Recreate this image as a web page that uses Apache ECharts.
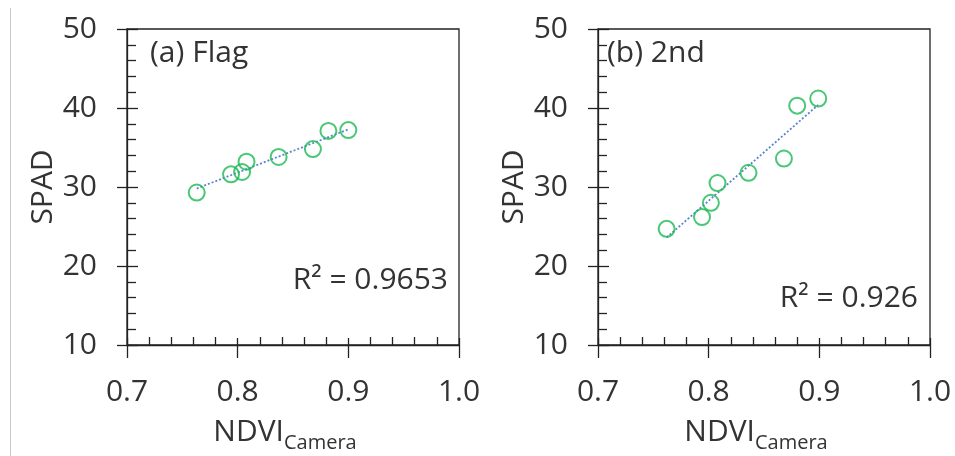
<!DOCTYPE html>
<html>
<head>
<meta charset="utf-8">
<title>SPAD vs NDVI camera</title>
<script src="https://cdn.jsdelivr.net/npm/echarts@6/dist/echarts.min.js"></script>
<style>
  html, body { margin: 0; padding: 0; background: #fff; }
  #chart { width: 955px; height: 456px; }
</style>
</head>
<body>
<div id="chart"></div>
<script>
// flag leaf
const ndviFlag = [0.763, 0.794, 0.804, 0.808, 0.837, 0.868, 0.882, 0.900];
const spadFlag = [29.3, 31.6, 31.9, 33.2, 33.8, 34.8, 37.1, 37.2];
// 2nd leaf
const ndvi2nd = [0.762, 0.794, 0.802, 0.808, 0.836, 0.868, 0.880, 0.899];
const spad2nd = [24.7, 26.2, 28.0, 30.5, 31.8, 33.6, 40.3, 41.2];

// linear trendline end points
const trendFlagX = [0.763, 0.900];
const trendFlagY = [29.8, 37.3];
const trend2ndX = [0.762, 0.899];
const trend2ndY = [23.6, 40.4];

const panelTitles = ['(a) Flag', '(b) 2nd'];
const r2Labels = ['R\u00B2 = 0.9653', 'R\u00B2 = 0.926'];

// axis ticks
const xTicks = [0.7, 0.8, 0.9, 1.0];
const yTicks = [10, 20, 30, 40, 50];

const FONT = 'Open Sans';
const TEXT = '#333333';
const AXIS = '#222222';
const GREEN = '#1DB954';
const BLUE = '#5B84D0';

const zip = (xs, ys) => xs.map((x, i) => [x, ys[i]]);

const gridLefts = [127, 598];

const grids = gridLefts.map(left => ({
  left: left,
  top: 29,
  width: 332,
  height: 316,
  show: true,
  borderColor: AXIS,
  borderWidth: 1.3,
  outerBoundsMode: 'none'
}));

const xAxes = [];
const yAxes = [];
gridLefts.forEach((_, i) => {
  // main axis: line, labels, name, outside part of major ticks
  xAxes.push({
    gridIndex: i,
    type: 'value',
    position: 'bottom',
    min: xTicks[0],
    max: xTicks[xTicks.length - 1],
    interval: 0.1,
    axisLine: { show: true, onZero: false, lineStyle: { color: AXIS, width: 1.3 } },
    axisTick: { show: true, inside: false, length: 13, lineStyle: { color: AXIS, width: 1.3 } },
    splitLine: { show: false },
    axisLabel: {
      fontFamily: FONT, fontSize: 30, color: TEXT, margin: 32,
      formatter: v => v.toFixed(1)
    },
    name: '{n|NDVI}{s|Camera}',
    nameLocation: 'middle',
    nameGap: 72,
    nameTextStyle: {
      padding: [0, 16, 0, 0],
      rich: {
        n: { fontFamily: FONT, fontSize: 30, color: TEXT, verticalAlign: 'top' },
        s: { fontFamily: FONT, fontSize: 20, color: TEXT, verticalAlign: 'top', padding: [16, 0, 0, 0] }
      }
    }
  });
  // overlay axis: inside ticks + minor ticks
  xAxes.push({
    gridIndex: i,
    type: 'value',
    position: 'bottom',
    min: xTicks[0],
    max: xTicks[xTicks.length - 1],
    interval: 0.1,
    axisLine: { show: false, onZero: false },
    axisTick: { show: true, inside: true, length: 7, lineStyle: { color: AXIS, width: 1.3 } },
    minorTick: { show: true, splitNumber: 5, length: 8, lineStyle: { color: AXIS, width: 1.3 } },
    axisLabel: { show: false },
    splitLine: { show: false }
  });

  yAxes.push({
    gridIndex: i,
    type: 'value',
    position: 'left',
    min: yTicks[0],
    max: yTicks[yTicks.length - 1],
    interval: 10,
    axisLine: { show: true, onZero: false, lineStyle: { color: AXIS, width: 1.3 } },
    axisTick: { show: true, inside: false, length: 10, lineStyle: { color: AXIS, width: 1.3 } },
    splitLine: { show: false },
    axisLabel: { fontFamily: FONT, fontSize: 30, color: TEXT, margin: 30 },
    name: 'SPAD',
    nameLocation: 'middle',
    nameGap: 68,
    nameTextStyle: { fontFamily: FONT, fontSize: 30, color: TEXT }
  });
  yAxes.push({
    gridIndex: i,
    type: 'value',
    position: 'left',
    min: yTicks[0],
    max: yTicks[yTicks.length - 1],
    interval: 10,
    axisLine: { show: false, onZero: false },
    axisTick: { show: true, inside: true, length: 11, lineStyle: { color: AXIS, width: 1.3 } },
    minorTick: { show: true, splitNumber: 5, length: 9, lineStyle: { color: AXIS, width: 1.3 } },
    axisLabel: { show: false },
    splitLine: { show: false }
  });
});

const titleStyle = { fontFamily: FONT, fontSize: 30, fontWeight: 'normal', color: TEXT };

const chart = echarts.init(document.getElementById('chart'), null, { renderer: 'canvas' });

chart.setOption({
  animation: false,
  backgroundColor: '#fff',
  title: [
    { text: panelTitles[0], left: 150, top: 38, padding: 0, textStyle: titleStyle },
    { text: panelTitles[1], left: 607, top: 38, padding: 0, textStyle: titleStyle },
    { text: r2Labels[0], right: 507, top: 265, padding: 0, textStyle: titleStyle },
    { text: r2Labels[1], right: 37, top: 283, padding: 0, textStyle: titleStyle }
  ],
  grid: grids,
  xAxis: xAxes,
  yAxis: yAxes,
  graphic: [{
    type: 'line',
    shape: { x1: 10.5, y1: 8, x2: 10.5, y2: 456 },
    style: { stroke: '#c8c8c8', lineWidth: 1 },
    silent: true
  }],
  series: [
    {
      type: 'line', xAxisIndex: 0, yAxisIndex: 0,
      data: zip(trendFlagX, trendFlagY),
      showSymbol: false, silent: true, z: 1,
      lineStyle: { color: BLUE, width: 1.8, type: [2, 2] }
    },
    {
      type: 'scatter', xAxisIndex: 0, yAxisIndex: 0,
      data: zip(ndviFlag, spadFlag),
      symbol: 'circle', symbolSize: 16, z: 2,
      itemStyle: { color: 'rgba(0,0,0,0)', borderColor: GREEN, borderWidth: 2 }
    },
    {
      type: 'line', xAxisIndex: 2, yAxisIndex: 2,
      data: zip(trend2ndX, trend2ndY),
      showSymbol: false, silent: true, z: 1,
      lineStyle: { color: BLUE, width: 1.8, type: [2, 2] }
    },
    {
      type: 'scatter', xAxisIndex: 2, yAxisIndex: 2,
      data: zip(ndvi2nd, spad2nd),
      symbol: 'circle', symbolSize: 16, z: 2,
      itemStyle: { color: 'rgba(0,0,0,0)', borderColor: GREEN, borderWidth: 2 }
    }
  ]
});
</script>
</body>
</html>
